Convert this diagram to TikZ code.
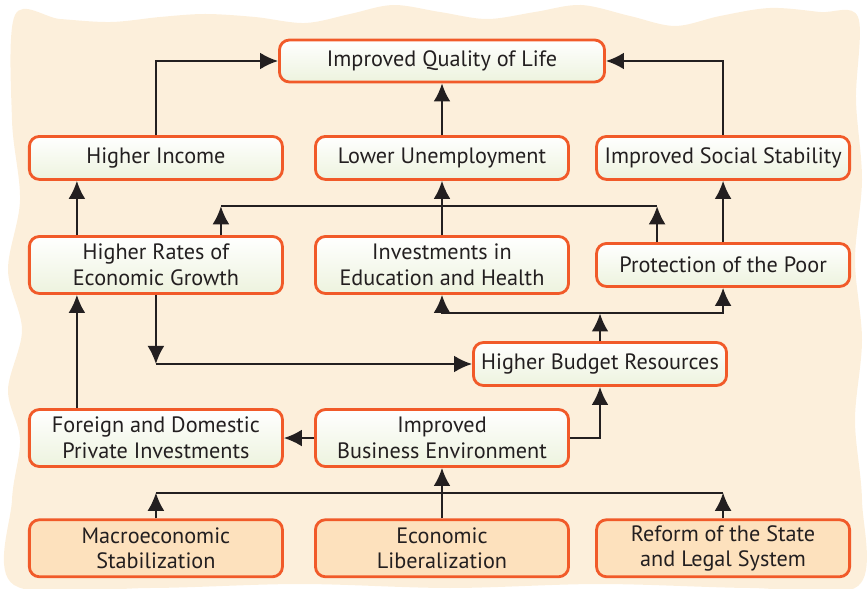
\documentclass[tikz,border=0pt]{standalone}
\usepackage{fontspec}
\setmainfont{PT Sans}
\usepackage{tikz}
\usetikzlibrary{positioning}
\usetikzlibrary{arrows.meta}

\definecolor{peach}{HTML}{FCEFDB}
\definecolor{boxline}{HTML}{F15A29}
\definecolor{boxgreen}{HTML}{EDF3DE}
\definecolor{reformfill}{HTML}{FDE1BD}
\definecolor{ink}{HTML}{231F20}

\begin{document}
\begin{tikzpicture}[x=0.025cm,y=-0.025cm,
		>={Latex[length=0.45cm,width=0.42cm]},
		link/.style={->,draw=ink,line width=1.4pt},
		box/.style={draw=boxline,line width=2pt,rounded corners=0.25cm,
			top color=white,bottom color=boxgreen,text=ink,align=center,
			minimum width=6.325cm,minimum height=1.075cm,inner xsep=2pt,inner ysep=1pt,
			font=\fontsize{15.8}{18.2}\selectfont},
		twoline/.style={box,minimum height=1.425cm},
		reform/.style={twoline,fill=reformfill,top color=reformfill,bottom color=reformfill}]

		\useasboundingbox (0,0) rectangle (868,589);

		% background sheet
		\fill[peach] plot[smooth cycle,tension=0.55] coordinates {
			(15,15) (60,19) (111,22) (160,17) (205,14) (255,17) (305,23) (350,14)
			(393,5) (440,12) (487,19) (535,12) (581,5) (630,16) (675,26) (720,16)
			(770,8) (820,12) (858,17) (856,100) (862,180) (855,260) (862,340)
			(855,420) (862,500) (858,586) (750,588) (600,584) (450,588) (300,584)
			(150,588) (14,585) (12,500) (20,440) (8,390) (22,330) (8,270) (20,200)
			(12,120)};

		% goal
		\node[box,minimum width=8.125cm,minimum height=1.05cm] (QoL) at (442,61) {Improved Quality of Life};

		% outcomes
		\node[box] (Unemp) [below = 1.29cm of QoL] {Lower Unemployment};
		\node[box] (Income) [left = 0.755cm of Unemp] {Higher Income};
		\node[box] (Stability) [right = 0.63cm of Unemp] {Improved Social Stability};

		\draw[link] (Income.north) |- (QoL.west);
		\draw[link] (Unemp.north) -- (QoL.south);
		\draw[link] (Stability.north) |- (QoL.east);

		% channels
		\node[twoline] (Invest) [below = 1.355cm of Unemp] {Investments in\\Education and Health};
		\node[twoline] (Growth) [left = 0.755cm of Invest] {Higher Rates of\\Economic Growth};
		\node[box] (Poor) [right = 0.63cm of Invest] {Protection of the Poor};

		\draw[link] ([xshift=-1.975cm]Growth.north) -- ([xshift=-1.975cm]Income.south);
		\draw[link] (Invest.north) -- (Unemp.south);
		\draw[link] (Poor.north -| Stability.south) -- (Stability.south);

		\coordinate (growthUp) at ([xshift=1.625cm,yshift=0.72cm]Growth.north);
		\coordinate (poorUp) at ([xshift=-1.65cm]Poor.north |- growthUp);
		\draw[link] ([xshift=1.625cm]Growth.north) -- (growthUp);
		\draw[link,-] (growthUp) -- (poorUp);
		\draw[link] ([xshift=-1.65cm]Poor.north) -- (poorUp);

		% budget
		\node[box] (Budget) at (600,364) {Higher Budget Resources};

		\coordinate (growthDown) at (Growth.south |- Budget.west);
		\draw[link] (Growth.south) -- (growthDown);
		\draw[link] (growthDown) -- (Budget.west);

		\coordinate (budgetUp) at ([yshift=0.69cm]Budget.north);
		\draw[link] (Budget.north) -- (budgetUp);
		\draw[link] (budgetUp) -| (Invest.south);
		\draw[link] (budgetUp) -| (Poor.south);

		% business climate
		\node[twoline] (Business) [below = 2.83cm of Invest] {Improved\\Business Environment};
		\node[twoline] (Private) [left = 0.755cm of Business] {Foreign and Domestic\\Private Investments};

		\draw[link] (Business.west) -- (Private.east);
		\draw[link] ([xshift=-1.975cm]Private.north) -- ([xshift=-1.975cm]Growth.south);
		\draw[link] (Business.east) -| (Budget.south);

		% reforms
		\node[reform] (Liberal) [below = 1.26cm of Business] {Economic\\Liberalization};
		\node[reform] (Macro) [left = 0.755cm of Liberal] {Macroeconomic\\Stabilization};
		\node[reform] (State) [right = 0.63cm of Liberal] {Reform of the State\\and Legal System};

		\coordinate (reformsUp) at ([yshift=0.64cm]Macro.north);
		\draw[link] (Macro.north) -- (reformsUp);
		\draw[link,-] (reformsUp) -- (reformsUp -| State.north);
		\draw[link] (State.north) -- (reformsUp -| State.north);
		\draw[link] (Liberal.north) -- (Business.south);
	\end{tikzpicture}
\end{document}
